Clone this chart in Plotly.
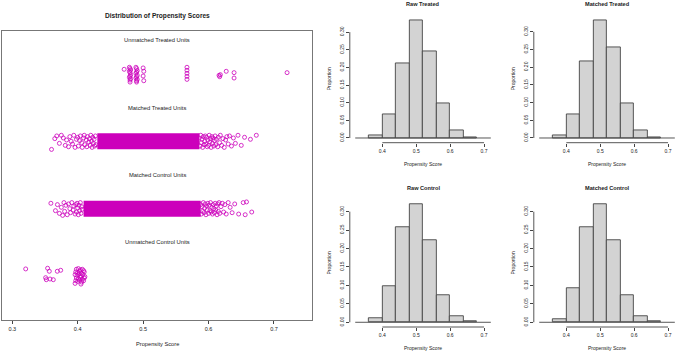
import plotly.graph_objects as go

W, H = 676, 353


def fx(p):
    return p / W


def fy(p):
    return 1 - p / H


# ------------------------------------------------------------------ data
group_names = ["Unmatched Control Units", "Matched Control Units",
               "Matched Treated Units", "Unmatched Treated Units"]
group_levels = [1, 2, 3, 4]

jitter_ticks = [0.3, 0.4, 0.5, 0.6, 0.7]
jitter_tick_labels = ["0.3", "0.4", "0.5", "0.6", "0.7"]

# dense (solid) cores of the matched bands: [from, to]
mt_core = [0.430, 0.586]
mc_core = [0.409, 0.588]

# matched treated, sparse points outside the solid core
mt_x = [0.360, 0.365, 0.368, 0.372, 0.375, 0.378, 0.381, 0.383, 0.386, 0.388,
        0.390, 0.392, 0.394, 0.396, 0.398, 0.400, 0.401, 0.403, 0.404, 0.406,
        0.407, 0.409, 0.410, 0.411, 0.413, 0.414, 0.415, 0.417, 0.418, 0.419,
        0.420, 0.421, 0.422, 0.423, 0.424, 0.425, 0.426, 0.427, 0.428,
        0.586, 0.587, 0.588, 0.589, 0.590, 0.591, 0.592, 0.593, 0.594, 0.595,
        0.596, 0.597, 0.598, 0.599, 0.600, 0.601, 0.602, 0.603, 0.604, 0.605,
        0.606, 0.607, 0.608, 0.609, 0.610, 0.611, 0.612, 0.614, 0.615, 0.617,
        0.618, 0.620, 0.622, 0.624, 0.626, 0.628, 0.630, 0.632, 0.635, 0.638,
        0.641, 0.645, 0.650, 0.655, 0.664, 0.673]
mt_dy = [-0.12, 0.04, 0.08, -0.03, 0.09, 0.05, -0.06, 0.02, -0.08, 0.07,
         0.00, -0.04, 0.09, -0.09, 0.03, 0.06, -0.07, 0.01, 0.08, -0.02,
         -0.09, 0.05, 0.09, -0.05, 0.02, -0.08, 0.07, -0.01, 0.04, -0.06,
         0.09, 0.00, -0.09, 0.06, -0.03, 0.03, -0.07, 0.08, -0.05,
         0.05, -0.07, 0.09, -0.02, 0.03, -0.09, 0.07, -0.05, 0.00, 0.08,
         -0.04, 0.06, -0.08, 0.02, -0.06, 0.09, -0.01, 0.04, -0.09, 0.07,
         -0.03, 0.05, -0.07, 0.01, 0.08, -0.05, 0.03, -0.08, 0.06, -0.02,
         0.09, -0.06, 0.04, -0.09, 0.02, 0.07, -0.04, 0.08, -0.07, 0.05,
         -0.03, 0.09, -0.06, 0.06, 0.03, 0.09]

# matched control, sparse points outside the solid core
mc_x = [0.359, 0.366, 0.369, 0.372, 0.375, 0.377, 0.379, 0.380, 0.382, 0.384,
        0.386, 0.388, 0.389, 0.391, 0.393, 0.394, 0.396, 0.397, 0.398, 0.399,
        0.400, 0.401, 0.402, 0.403, 0.404, 0.405, 0.406, 0.407,
        0.588, 0.589, 0.590, 0.591, 0.592, 0.593, 0.594, 0.595, 0.596, 0.597,
        0.598, 0.599, 0.600, 0.601, 0.602, 0.603, 0.604, 0.605, 0.606, 0.607,
        0.608, 0.609, 0.610, 0.611, 0.612, 0.613, 0.614, 0.615, 0.616, 0.617,
        0.619, 0.621, 0.623, 0.625, 0.627, 0.630, 0.633, 0.636, 0.640, 0.646,
        0.653, 0.656, 0.658, 0.666]
mc_dy = [0.08, -0.03, 0.06, -0.07, 0.02, -0.10, 0.09, -0.04, 0.05, -0.09,
         0.07, 0.00, -0.06, 0.09, -0.02, 0.04, -0.08, 0.06, -0.05, 0.08,
         0.01, -0.09, 0.05, -0.03, 0.09, -0.07, 0.03, -0.01,
         0.06, -0.08, 0.03, -0.04, 0.09, -0.06, 0.01, 0.07, -0.09, 0.04,
         -0.02, 0.08, -0.07, 0.05, -0.03, 0.09, -0.05, 0.02, -0.08, 0.06,
         0.00, -0.06, 0.08, -0.02, 0.04, -0.09, 0.07, -0.04, 0.09, -0.07,
         0.03, 0.08, -0.05, 0.06, -0.08, 0.09, 0.02, -0.06, 0.07, -0.08,
         0.09, -0.09, 0.10, -0.05]

# unmatched treated
ut_x = [0.471, 0.479, 0.480, 0.481, 0.479, 0.480, 0.481, 0.480, 0.479, 0.481,
        0.480, 0.480, 0.489, 0.490, 0.491, 0.490, 0.489, 0.491, 0.490, 0.489,
        0.491, 0.490, 0.490, 0.500, 0.501, 0.500, 0.501, 0.567, 0.567, 0.567,
        0.567, 0.567, 0.616, 0.617, 0.618, 0.627, 0.639, 0.639, 0.720]
ut_dy = [0.07, 0.10, 0.08, 0.06, 0.04, 0.02, -0.01, -0.03, -0.05, -0.07,
         -0.09, -0.12, 0.10, 0.08, 0.05, 0.03, 0.01, -0.02, -0.04, -0.06,
         -0.08, -0.10, -0.12, 0.09, 0.04, -0.03, -0.10, 0.10, 0.055, 0.01,
         -0.035, -0.08, -0.02, -0.04, -0.01, 0.04, 0.02, -0.06, 0.02]

# unmatched control
uc_x = [0.3205, 0.354, 0.3566, 0.3688, 0.374, 0.351, 0.352, 0.3577, 0.3627,
        0.398, 0.401, 0.404, 0.407, 0.409, 0.397, 0.400, 0.403, 0.406, 0.410,
        0.396, 0.399, 0.402, 0.405, 0.408, 0.411, 0.398, 0.401, 0.404, 0.407,
        0.410, 0.397, 0.400, 0.403, 0.406, 0.409, 0.396, 0.405]
uc_dy = [0.105, 0.115, 0.07, 0.07, 0.085, -0.025, -0.055, -0.045, -0.055,
         0.10, 0.11, 0.09, 0.10, 0.08, 0.06, 0.05, 0.07, 0.04, 0.06,
         0.02, 0.01, 0.03, 0.00, 0.02, -0.01, -0.03, -0.04, -0.02, -0.05,
         -0.03, -0.07, -0.08, -0.06, -0.09, -0.07, -0.11, -0.12]

# histograms (proportion per bin)
breaks = [0.32, 0.36, 0.40, 0.44, 0.48, 0.52, 0.56, 0.60, 0.64, 0.68, 0.72]
raw_treated = [0.0, 0.0075, 0.067, 0.212, 0.334, 0.246, 0.098, 0.0226, 0.003, 0.0]
matched_treated = [0.0, 0.0066, 0.068, 0.215, 0.333, 0.256, 0.099, 0.022, 0.002, 0.0]
raw_control = [0.0, 0.0118, 0.0985, 0.258, 0.321, 0.2215, 0.073, 0.017, 0.002, 0.0]
matched_control = [0.0, 0.008, 0.093, 0.258, 0.321, 0.2215, 0.073, 0.017, 0.002, 0.0]
hist_titles = ["Raw Treated", "Matched Treated", "Raw Control", "Matched Control"]
hist_x_ticks = [0.4, 0.5, 0.6, 0.7]
hist_x_labels = ["0.4", "0.5", "0.6", "0.7"]
hist_y_ticks = [0.00, 0.05, 0.10, 0.15, 0.20, 0.25, 0.30]
hist_y_labels = ["0.00", "0.05", "0.10", "0.15", "0.20", "0.25", "0.30"]

# ------------------------------------------------------------------ style
MAG = "#CC00BB"
TXT = "#222222"
AX = "#444444"
FONT = "Liberation Sans, Arial, Helvetica, sans-serif"

fig = go.Figure()

# ---------------- left jitter panel
for core, lvl in ((mc_core, 2), (mt_core, 3)):
    fig.add_trace(go.Scatter(x=core, y=[lvl, lvl], mode="lines",
                             line=dict(color=MAG, width=16),
                             xaxis="x", yaxis="y", hoverinfo="skip"))

for xs, dys, lvl in ((uc_x, uc_dy, 1), (mc_x, mc_dy, 2),
                     (mt_x, mt_dy, 3), (ut_x, ut_dy, 4)):
    fig.add_trace(go.Scatter(
        x=xs, y=[lvl + d for d in dys], mode="markers",
        marker=dict(symbol="circle-open", size=4, color=MAG,
                    line=dict(width=0.8, color=MAG)),
        xaxis="x", yaxis="y"))


def ann(text, x, y, size, xref="paper", yref="paper", angle=0):
    return dict(text=text, x=x, y=y, xref=xref, yref=yref, showarrow=False,
                xanchor="center", yanchor="middle", textangle=angle,
                font=dict(size=size, color=TXT))


annotations = []
for name, lvl in zip(group_names, group_levels):
    annotations.append(ann(name, 0.5212, lvl + 0.5, 5.8, "x", "y"))

annotations.append(ann("<b>Distribution of Propensity Scores</b>",
                       fx(157), fy(16), 6.6))
annotations.append(ann("Propensity Score", fx(157), fy(344), 5.7))

layout_axes = dict(
    xaxis=dict(domain=[fx(2), fx(312)], range=[0.2843, 0.7581],
               tickvals=jitter_ticks, ticktext=jitter_tick_labels,
               ticks="outside", ticklen=3, tickwidth=0.8, tickcolor=AX,
               tickfont=dict(size=5.5, color=TXT),
               showline=True, mirror=True, linecolor="#777777", linewidth=1,
               showgrid=False, zeroline=False, anchor="y"),
    yaxis=dict(domain=[fy(320), fy(31)], range=[0.3465, 4.6386],
               showticklabels=False, ticks="", showline=True, mirror=True,
               linecolor="#777777", linewidth=1, showgrid=False,
               zeroline=False, anchor="x"),
)

# ---------------- histograms
mids = [(a + b) / 2 for a, b in zip(breaks[:-1], breaks[1:])]
bw = breaks[1] - breaks[0]

hist_data = [raw_treated, matched_treated, raw_control, matched_control]
col_px = [(349.8, 496.2), (533.8, 676.0)]
row_px = [(15.4, 142.7), (199.2, 327.0)]
title_y = [4.5, 188.0]
xlab_y = [164.3, 348.3]
ylab_x = [329.3, 513.3]
SCALE = 339.0  # px per unit of propensity score in the histograms
XLO = 0.304

shapes = []
for i, (ttl, vals) in enumerate(zip(hist_titles, hist_data)):
    r, c = divmod(i, 2)
    n = i + 2
    xa, ya = f"x{n}", f"y{n}"
    x0p, x1p = col_px[c]
    y0p, y1p = row_px[r]
    xr = [XLO, XLO + (x1p - x0p) / SCALE]
    ymax = max(vals)
    yr = [-0.04 * ymax, 1.04 * ymax]

    bx = [m for m, v in zip(mids, vals) if v > 0]
    by = [v for v in vals if v > 0]
    fig.add_trace(go.Bar(x=bx, y=by, width=bw, xaxis=xa, yaxis=ya,
                         marker=dict(color="#D3D3D3",
                                     line=dict(color=AX, width=0.9))))
    fig.add_trace(go.Scatter(x=[breaks[0], breaks[-1]], y=[0, 0], mode="lines",
                             line=dict(color=AX, width=0.9),
                             xaxis=xa, yaxis=ya, hoverinfo="skip"))

    layout_axes[f"xaxis{n}"] = dict(
        domain=[fx(x0p), fx(x1p)], range=xr, anchor=ya,
        tickvals=hist_x_ticks, ticktext=hist_x_labels,
        ticks="outside", ticklen=3, tickwidth=0.8, tickcolor=AX,
        tickfont=dict(size=5.0, color=TXT),
        showline=False, showgrid=False, zeroline=False)
    layout_axes[f"yaxis{n}"] = dict(
        domain=[fy(y1p), fy(y0p)], range=yr, anchor=xa,
        tickvals=hist_y_ticks, ticktext=hist_y_labels, tickangle=-90,
        ticks="outside", ticklen=3, tickwidth=0.8, tickcolor=AX,
        tickfont=dict(size=5.0, color=TXT),
        showline=False, showgrid=False, zeroline=False)

    shapes.append(dict(type="line", xref=xa, yref=f"{ya} domain",
                       x0=hist_x_ticks[0], x1=hist_x_ticks[-1], y0=0, y1=0,
                       line=dict(color=AX, width=0.9)))
    shapes.append(dict(type="line", xref=f"{xa} domain", yref=ya,
                       x0=0, x1=0, y0=hist_y_ticks[0], y1=hist_y_ticks[-1],
                       line=dict(color=AX, width=0.9)))

    # centre of the full R plot region (xlim 0.304 .. 0.736)
    cx = x0p + 0.216 * SCALE
    annotations.append(ann(f"<b>{ttl}</b>", fx(cx), fy(title_y[r]), 5.6))
    annotations.append(ann("Propensity Score", fx(cx), fy(xlab_y[r]), 5.0))
    annotations.append(ann("Proportion", fx(ylab_x[c]), fy((y0p + y1p) / 2),
                           5.0, angle=-90))

fig.update_layout(
    width=W, height=H, margin=dict(l=0, r=0, t=0, b=0),
    paper_bgcolor="white", plot_bgcolor="white",
    showlegend=False, font=dict(family=FONT, color=TXT),
    annotations=annotations, shapes=shapes, bargap=0,
    **layout_axes,
)

fig.write_html(
    "out.html",
    config={"displayModeBar": False},
    post_script="document.body.style.margin='0';"
                "document.body.style.overflow='hidden';",
)
